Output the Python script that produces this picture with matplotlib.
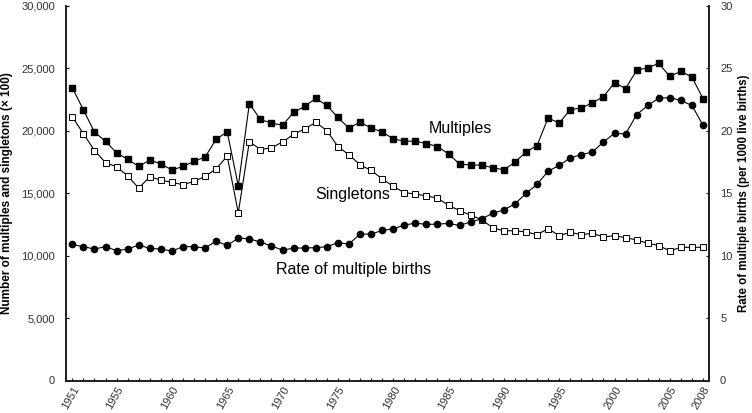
import matplotlib.pyplot as plt
from matplotlib.ticker import FuncFormatter, MultipleLocator

plt.rcParams['font.family'] = ['Liberation Sans', 'DejaVu Sans']

years = list(range(1951, 2009))

# number of multiples (x100 births), left axis
multiples = [23450, 21690, 19900, 19170, 18230, 17720, 17150, 17660, 17360, 16860,
             17150, 17560, 17900, 19330, 19920, 15590, 22180, 20910, 20620, 20450,
             21480, 21960, 22600, 22040, 21070, 20220, 20700, 20220, 19920, 19360,
             19170, 19170, 18980, 18740, 18150, 17340, 17260, 17260, 17040, 16880,
             17480, 18300, 18820, 21030, 20620, 21690, 21830, 22240, 22740, 23850,
             23390, 24840, 25060, 25400, 24360, 24780, 24300, 22580]

# number of singletons (x100 births), left axis
singletons = [21110, 19780, 18420, 17460, 17120, 16400, 15410, 16320, 16050, 15870,
              15690, 15950, 16350, 16960, 17970, 13420, 19140, 18500, 18640, 19110,
              19720, 20150, 20680, 20020, 18740, 18080, 17280, 16830, 16160, 15550,
              15050, 14940, 14780, 14620, 14030, 13610, 13240, 12890, 12220, 12000,
              11990, 11910, 11680, 12160, 11600, 11870, 11680, 11790, 11500, 11600,
              11440, 11260, 10990, 10810, 10380, 10670, 10670, 10670]

# rate of multiple births per 1000 live births, right axis
rate = [10.90, 10.72, 10.53, 10.72, 10.40, 10.53, 10.85, 10.58, 10.53, 10.37,
        10.72, 10.72, 10.61, 11.17, 10.82, 11.41, 11.35, 11.09, 10.77, 10.45,
        10.60, 10.62, 10.64, 10.72, 11.04, 10.93, 11.73, 11.73, 12.02, 12.15,
        12.45, 12.61, 12.50, 12.53, 12.58, 12.42, 12.71, 12.95, 13.40, 13.66,
        14.15, 14.98, 15.71, 16.77, 17.23, 17.83, 18.10, 18.29, 19.11, 19.80,
        19.75, 21.29, 22.03, 22.61, 22.67, 22.43, 22.03, 20.44]

xtick_years = [1951, 1955, 1960, 1965, 1970, 1975, 1980, 1985, 1990, 1995, 2000, 2005, 2008]

fig = plt.figure(figsize=(7.52, 4.13), dpi=100)
ax = fig.add_axes([66 / 752, 1 - 380.5 / 413, (709 - 66) / 752, (380.5 - 6) / 413])
ax2 = ax.twinx()

lw = 0.8
ax.plot(years, singletons, color='black', lw=lw, marker='s', markersize=5,
        markerfacecolor='white', markeredgecolor='black', markeredgewidth=0.7, zorder=3)
ax.plot(years, multiples, color='black', lw=lw, marker='s', markersize=5,
        markerfacecolor='black', markeredgecolor='black', zorder=3)
ax2.plot(years, rate, color='black', lw=lw, marker='o', markersize=4.5,
         markerfacecolor='black', markeredgecolor='black', zorder=3)

ax.set_xlim(1950.43, 2008.54)
ax.set_ylim(0, 30000)
ax2.set_ylim(0, 30)

ax.set_xticks(xtick_years)
ax.xaxis.set_minor_locator(MultipleLocator(1))
ax.set_xticklabels([str(y) for y in xtick_years], rotation=60, ha='right',
                   rotation_mode='anchor', fontsize=8, color='#333333')
ax.tick_params(axis='x', which='both', direction='in', length=2.5, width=0.8, pad=3)

ax.yaxis.set_major_locator(MultipleLocator(5000))
ax.yaxis.set_major_formatter(FuncFormatter(lambda v, p: f'{int(v):,}'))
ax.tick_params(axis='y', direction='in', length=2.5, width=0.8, labelsize=8,
               labelcolor='#333333', pad=8)
ax2.yaxis.set_major_locator(MultipleLocator(5))
ax2.tick_params(axis='y', direction='in', length=2.5, width=0.8, labelsize=8,
                labelcolor='#333333', pad=8)

for a in (ax, ax2):
    a.spines['top'].set_visible(False)
    for s in ('left', 'right', 'bottom'):
        a.spines[s].set_linewidth(1.3)
        a.spines[s].set_color('#222222')

ax.set_ylabel('Number of multiples and singletons (× 100)', fontsize=8.5,
              fontweight='bold', labelpad=6)
ax2.set_ylabel('Rate of multiple births (per 1000 live births)', fontsize=8.3,
               fontweight='bold', labelpad=4)

ax.text(1986.1, 20215, 'Multiples', fontsize=11.5, ha='center', va='center')
ax.text(1976.35, 14911, 'Singletons', fontsize=11.5, ha='center', va='center')
ax.text(1976.45, 8891, 'Rate of multiple births', fontsize=11.5, ha='center', va='center')

fig.savefig('out.png', dpi=100)
